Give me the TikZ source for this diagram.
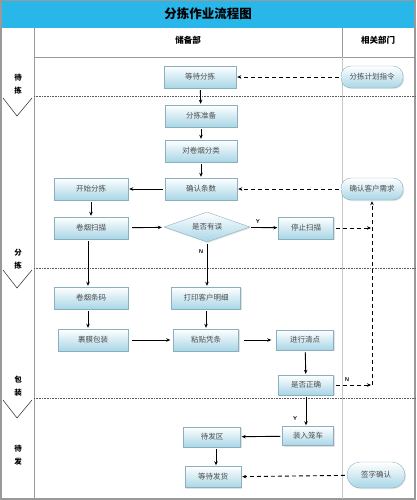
\documentclass[tikz,border=0pt]{standalone}
\usepackage{fontspec}
\newfontfamily\cjk{Noto Sans CJK SC}
\usetikzlibrary{shapes.geometric,shadows,arrows.meta}

\definecolor{titlecyan}{RGB}{41,182,232}
\definecolor{boxline}{RGB}{140,175,192}
\definecolor{boxbottom}{RGB}{168,214,230}
\definecolor{laneline}{RGB}{90,90,90}

\tikzset{
  proc/.style={draw=boxline, top color=white, bottom color=boxbottom,
    minimum height=22pt, inner sep=1pt, font=\cjk\fontsize{7.5}{8}\selectfont, text=black!70,
    drop shadow={shadow xshift=1pt, shadow yshift=-1pt, fill=gray!45}},
  pill/.style={proc, rounded corners=10pt},
  decide/.style={proc, diamond, aspect=2.9, minimum width=86pt, minimum height=30pt, inner sep=0pt},
  flow/.style={-{Stealth[length=4pt,width=3.5pt]}, line width=0.9pt, shorten <=2pt, shorten >=1pt},
  dflow/.style={flow, dashed, dash pattern=on 4pt off 3pt},
  yn/.style={font=\sffamily\bfseries\fontsize{5.5}{6}\selectfont}
}

\begin{document}
\begin{tikzpicture}[x=1pt, y=-1pt]
\useasboundingbox (0,0) rectangle (416,500);

% Titel
\fill[titlecyan] (0,0) rectangle (416,28);
\node (title) at (208,14) {\cjk\bfseries\fontsize{12.5}{13}\selectfont 分拣作业流程图};

% Rahmen und Spalten
\draw[gray!80, line width=1.2pt] (1,0) rectangle (415,499);
\draw[gray!80, line width=1pt] (34,28) -- (34,499);
\draw[gray!80, line width=0.8pt] (34,57) -- (415,57);
\draw[gray!80, line width=0.8pt] (342,28) -- (342,57);
\draw[gray!45, line width=0.8pt] (342,57) -- (342,499);
\node (dept) at (188,40) {\cjk\bfseries\fontsize{8.5}{9}\selectfont 储备部};
\node (other) at (378,40) {\cjk\bfseries\fontsize{8.5}{9}\selectfont 相关部门};

% Bahnen
\foreach \y in {96,268,398} {
    \draw[laneline, line width=0.9pt, dash pattern=on 1pt off 0.6pt] (34,\y) -- (415,\y);
    \draw[black!75, line width=0.6pt] (3,\y+2) -- (17,\y+20) -- (32,\y+2);
}
\foreach \a/\b/\y in {待/拣/78, 分/拣/253, 包/装/380, 待/发/449} {
    \node[font=\cjk\bfseries\fontsize{7.5}{8}\selectfont] at (18,\y) {\a};
    \node[font=\cjk\bfseries\fontsize{7.5}{8}\selectfont] at (18,\y+13) {\b};
}

% Knoten
\node[proc, minimum width=72pt] (wait) at (200,77) {等待分拣};
\node[pill, minimum width=62pt] (plan) at (372,77) {分拣计划指令};
\node[proc, minimum width=72pt] (prep) at (201,116) {分拣准备};
\node[proc, minimum width=72pt] (sort) at (201,151) {对卷烟分类};
\node[proc, minimum width=72pt] (count) at (201,189) {确认条数};
\node[proc, minimum width=74pt] (start) at (91,189) {开始分拣};
\node[pill, minimum width=62pt] (custreq) at (372,189) {确认客户需求};
\node[proc, minimum width=74pt] (scan) at (91,228) {卷烟扫描};
\node[decide] (check) at (207,227) {是否有误};
\node[proc, minimum width=55pt] (stop) at (306,228) {停止扫描};
\node[proc, minimum width=74pt] (code) at (91,298) {卷烟条码};
\node[proc, minimum width=69pt] (print) at (206,298) {打印客户明细};
\node[proc, minimum width=70pt] (wrap) at (93,340) {裹膜包装};
\node[proc, minimum width=65pt] (paste) at (206,340) {粘贴凭条};
\node[proc, minimum width=57pt, minimum height=20pt] (tally) at (305,340) {进行清点};
\node[proc, minimum width=55pt, minimum height=20pt] (correct) at (306,385) {是否正确};
\node[proc, minimum width=51pt, minimum height=19pt] (load) at (308,436) {装入笼车};
\node[proc, minimum width=57pt, minimum height=20pt] (area) at (212,437) {待发区};
\node[proc, minimum width=56pt, minimum height=21pt] (ship) at (213,477) {等待发货};
\node[pill, minimum width=58pt, minimum height=26pt, rounded corners=13pt] (sign) at (376,475) {签字确认};

\coordinate (jstop) at (custreq.south |- stop.east);
\coordinate (jcorr) at (custreq.south |- correct.east);

% Verbindungen
\draw[flow] (wait) -- (prep);
\draw[flow] (prep) -- (sort);
\draw[flow] (sort) -- (count);
\draw[flow] (count) -- (start);
\draw[flow] (start) -- (scan);
\draw[flow, shorten <=4pt, shorten >=3pt] (scan) -- (check);
\draw[flow] (check) -- node[yn, above, pos=0.3] {Y} (stop);
\draw[flow] (check) -- node[yn, left, pos=0.2] {N} (check |- print.north);
\draw[flow] (scan.south -| code.north) ++(-3,0) coordinate (s1) (s1) -- (s1 |- code.north);
\draw[flow] (code.south -| wrap.north) ++(-5,0) coordinate (s2) (s2) -- (s2 |- wrap.north);
\draw[flow] (print) -- (paste);
\draw[flow, shorten <=4pt, shorten >=3pt] (wrap) -- (paste);
\draw[flow, shorten <=5pt, shorten >=5pt] (paste) -- (tally);
\draw[flow] (tally) -- (correct);
\draw[flow] (correct) -- node[yn, left, pos=0.75, xshift=-5pt] {Y} (correct |- load.north);
\draw[flow] (load) -- (area);
\draw[flow] (area.south) ++(4,0) coordinate (s3) (s3) -- (s3 |- ship.north);

% gestrichelte Verbindungen
\draw[dflow] (plan) -- (wait);
\draw[dflow] (custreq) -- (count);
\draw[dflow] (sign) -- (ship);
\draw[dflow] (stop) -- (jstop);
\draw[dflow] (correct) -- node[yn, above, pos=0.35] {N} (jcorr);
\draw[dflow, shorten <=0pt] (jcorr) -- (custreq.south);

\end{tikzpicture}
\end{document}
